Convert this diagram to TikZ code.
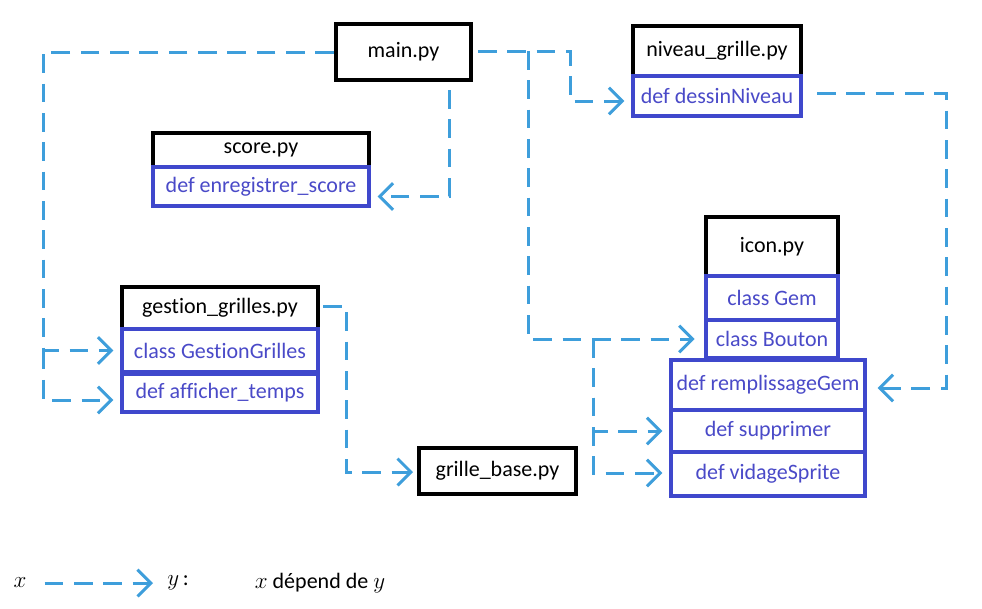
\documentclass[tikz,border=0pt]{standalone}
\usepackage{fontspec}
\setmainfont{Carlito}[Ligatures=NoCommon]
\usetikzlibrary{calc,arrows.meta}
\definecolor{ink}{HTML}{000000}
\definecolor{boxblue}{HTML}{3F48CC}
\definecolor{txtblue}{HTML}{4A4AC8}
\definecolor{deparrow}{HTML}{3E9EDB}
\tikzset{
  file/.style={rectangle, draw=ink, line width=3pt, inner sep=0pt, fill=white, text=ink},
  member/.style={rectangle, draw=boxblue, line width=3pt, inner sep=0pt, fill=white, text=txtblue},
  dep/.style={draw=deparrow, line width=2.25pt, dash pattern=on 14pt off 8pt,
    -{Straight Barb[length=10pt,width=20pt]}, shorten >=5pt},
  lab/.style={text=ink},
}

\begin{document}
\begin{tikzpicture}[x=0.75pt, y=-0.75pt, font=\fontsize{16.5}{19}\selectfont]
  \useasboundingbox (0,0) rectangle (982,608);

  % files
  \node[file, minimum width=101.25pt, minimum height=42pt] (main) at (403.5,52) {main.py};

  \node[file, minimum width=162pt, minimum height=25.5pt] (sh) at (261,150) {score.py};
  \node[member, minimum width=162pt, minimum height=29.25pt] (se) at (261,186.5) {def enregistrer\_score};

  \node[file, minimum width=126pt, minimum height=37.5pt] (nh) at (717,51) {niveau\_grille.py};
  \node[member, minimum width=126pt, minimum height=30pt] (nd) at (717,96) {def dessinNiveau};

  \node[file, minimum width=99pt, minimum height=44.25pt] (ih) at (772,246.5) {icon.py};
  \node[member, minimum width=99pt, minimum height=33pt] (ig) at (772,298) {class Gem};
  \node[member, minimum width=99pt, minimum height=28.5pt] (ib) at (772,339) {class Bouton};
  \node[member, minimum width=145.5pt, minimum height=37.5pt] (ir) at (768,385) {def remplissageGem};
  \node[member, minimum width=145.5pt, minimum height=31.5pt] (is) at (768,431) {def supprimer};
  \node[member, minimum width=145.5pt, minimum height=33pt] (iv) at (768,474) {def vidageSprite};

  \node[file, minimum width=147pt, minimum height=31.5pt] (gh) at (220,308) {gestion\_grilles.py};
  \node[member, minimum width=147pt, minimum height=32.25pt] (gc) at (220,350.5) {class GestionGrilles};
  \node[member, minimum width=147pt, minimum height=28.5pt] (gd) at (220,393) {def afficher\_temps};

  \node[file, minimum width=117.75pt, minimum height=34.5pt] (gb) at (497.5,471) {grille\_base.py};

  % dependencies of main.py
  \draw[dep] (main.west) -| ($(gc.west)+(-77,0)$) -- (gc.west);
  \draw[dep] ($(gc.west)+(-77,0)$) |- ($(gd.west)+(0,7)$);
  \draw[dep] ($(main.south)+(46,8)$) |- ($(se.east)+(0,10)$);
  \draw[dep] ($(main.east)+(5,-1)$) -| ($(nd.west)+(-61,5)$) -- ($(nd.west)+(0,5)$);
  \draw[dep, shorten >=7pt] ($(main.east)+(55,-1)$) |- (ib.west);
  \draw[dep] ($(ib.west)+(-111,0)$) |- (is.west);
  \draw[dep] ($(ib.west)+(-111,0)$) |- ($(iv.west)+(0,-1)$);

  % other dependencies
  \draw[dep, shorten >=8pt] ($(nd.east)+(14,-3)$) -| ($(ir.east)+(79,3)$) -- ($(ir.east)+(0,3)$);
  \draw[dep, shorten >=3pt] ($(gh.east)+(3,-2)$) -| ($(gb.west)+(-71,1)$) -- ($(gb.west)+(0,1)$);

  % legend
  \node[lab, inner sep=0pt] (lx) at (20,583) {$x$};
  \node[lab, inner sep=0pt, anchor=west] (ly) at (167,583) {$y$\,:};
  \draw[dep, shorten <=13.5pt, shorten >=10.5pt] (lx) -- (lx -| ly.west);
  \node[lab] (lmean) at (320,583) {$x$ dépend de $y$};
\end{tikzpicture}
\end{document}
